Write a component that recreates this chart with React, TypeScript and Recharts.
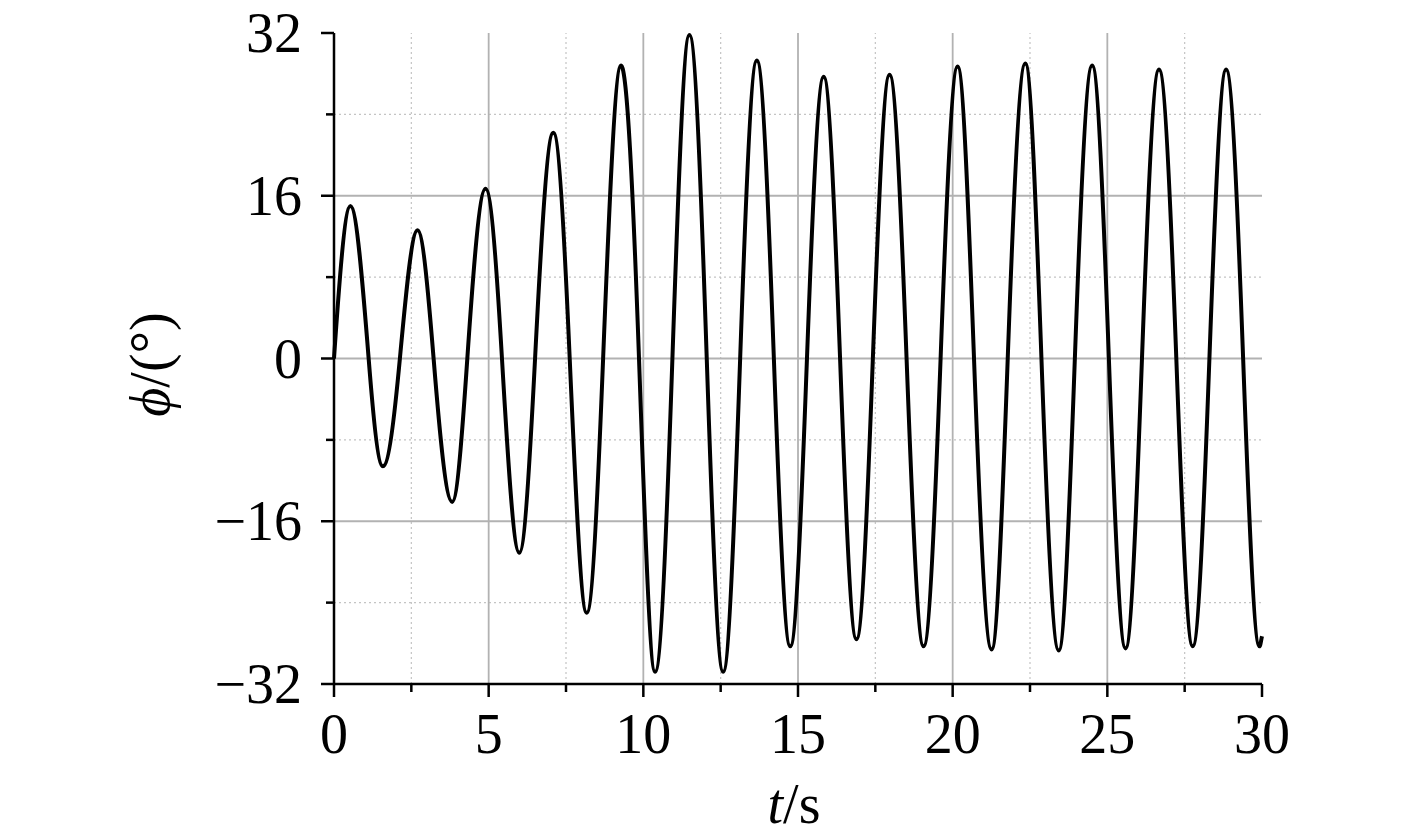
import { LineChart, Line, XAxis, YAxis, ReferenceLine } from 'recharts'

// values: peaks, troughs and zero crossings
const timeS = [
  0, 0.53, 1.12, 1.58, 2.13, 2.7, 3.22, 3.82, 4.31, 4.9, 5.43, 5.99, 6.5, 7.09, 7.62, 8.17, 8.7,
  9.28, 9.86, 10.38, 10.94, 11.49, 12.05, 12.58, 13.13, 13.67, 14.22, 14.75, 15.29, 15.83, 16.36,
  16.89, 17.42, 17.96, 18.51, 19.06, 19.61, 20.16, 20.69, 21.26, 21.78, 22.35, 22.87, 23.43, 23.95,
  24.51, 25.05, 25.59, 26.12, 26.67, 27.23, 27.76, 28.3, 28.84, 29.39, 29.92, 30,
]
const phiDeg = [
  0, 15.0, 0, -10.6, 0, 12.6, 0, -14.1, 0, 16.7, 0, -19.1, 0, 22.2, 0, -25.0, 0,
  28.8, 0, -30.8, 0, 31.8, 0, -30.8, 0, 29.3, 0, -28.3, 0, 27.7, 0,
  -27.6, 0, 27.9, 0, -28.3, 0, 28.7, 0, -28.6, 0, 29.0, 0, -28.7, 0,
  28.8, 0, -28.5, 0, 28.4, 0, -28.3, 0, 28.4, 0, -28.3, -27.3,
]

const xTicks = [0, 2.5, 5, 7.5, 10, 12.5, 15, 17.5, 20, 22.5, 25, 27.5, 30]
const yTicks = [-32, -24, -16, -8, 0, 8, 16, 24, 32]
const xGridMajor = [5, 10, 15, 20, 25]
const xGridMinor = [2.5, 7.5, 12.5, 17.5, 22.5, 27.5]
const yGridMajor = [-16, 0, 16]
const yGridMinor = [-24, -8, 8, 24]

const data = timeS.map((t, i) => ({ t, phi: phiDeg[i] }))

const FONT = '"Liberation Serif", "Times New Roman", serif'

const fmt = (v: number) => (v < 0 ? '\u2212' + Math.abs(v) : String(v))

// cubic Hermite curve: flat at the turning points, steeper through the crossings
function oscCurve(context: any) {
  let xs: number[] = []
  let ys: number[] = []
  return {
    areaStart() {},
    areaEnd() {},
    lineStart() {
      xs = []
      ys = []
    },
    point(x: number, y: number) {
      xs.push(+x)
      ys.push(+y)
    },
    lineEnd() {
      const n = xs.length
      if (!n) return
      context.moveTo(xs[0], ys[0])
      if (n === 1) return
      const m: number[] = []
      for (let i = 0; i < n; i++) {
        if (i === 0) {
          m.push((1.57 * (ys[1] - ys[0])) / (xs[1] - xs[0]))
        } else if (i === n - 1) {
          m.push((ys[i] - ys[i - 1]) / (xs[i] - xs[i - 1]))
        } else {
          const s0 = (ys[i] - ys[i - 1]) / (xs[i] - xs[i - 1])
          const s1 = (ys[i + 1] - ys[i]) / (xs[i + 1] - xs[i])
          m.push(s0 * s1 <= 0 ? 0 : (1.57 * (ys[i + 1] - ys[i - 1])) / (xs[i + 1] - xs[i - 1]))
        }
      }
      for (let i = 0; i < n - 1; i++) {
        const dx = (xs[i + 1] - xs[i]) / 3
        context.bezierCurveTo(
          xs[i] + dx,
          ys[i] + m[i] * dx,
          xs[i + 1] - dx,
          ys[i + 1] - m[i + 1] * dx,
          xs[i + 1],
          ys[i + 1],
        )
      }
    },
  }
}

function XTick({ x, y, payload }: any) {
  const major = payload.value % 5 === 0
  return (
    <g>
      <line x1={x} y1={y} x2={x} y2={y + (major ? 13 : 8)} stroke="#000" strokeWidth={2.5} />
      {major && (
        <text x={x} y={y + 69} textAnchor="middle" fontFamily={FONT} fontSize={56} fill="#000">
          {fmt(payload.value)}
        </text>
      )}
    </g>
  )
}

function YTick({ x, y, payload }: any) {
  const major = payload.value % 16 === 0
  return (
    <g>
      <line x1={x} y1={y} x2={x - (major ? 13 : 8)} y2={y} stroke="#000" strokeWidth={2.5} />
      {major && (
        <text
          x={x - 32}
          y={y}
          textAnchor="end"
          dominantBaseline="central"
          fontFamily={FONT}
          fontSize={56}
          fill="#000"
        >
          {fmt(payload.value)}
        </text>
      )}
    </g>
  )
}

function XTitle({ viewBox }: any) {
  const cx = viewBox.x + viewBox.width / 2 - 4
  const y = viewBox.y + 139
  return (
    <text x={cx} y={y} textAnchor="middle" fontFamily={FONT} fontSize={56} fill="#000">
      <tspan fontStyle="italic">t</tspan>
      <tspan>/s</tspan>
    </text>
  )
}

function YTitle({ viewBox }: any) {
  const cx = viewBox.x + viewBox.width - 184
  const cy = viewBox.y + viewBox.height / 2 + 6
  return (
    <text
      x={cx}
      y={cy}
      transform={`rotate(-90 ${cx} ${cy})`}
      textAnchor="middle"
      dominantBaseline="central"
      fontFamily={FONT}
      fontSize={56}
      fill="#000"
    >
      <tspan fontStyle="italic">{'\u03D5'}</tspan>
      <tspan>/(°)</tspan>
    </text>
  )
}

export default function App() {
  return (
    <div style={{ position: 'absolute', left: 0, top: 0 }}>
      <LineChart width={1417} height={839} data={data} margin={{ top: 33, right: 155, bottom: 55, left: 0 }}>
        {xGridMinor.map((v) => (
          <ReferenceLine key={'xm' + v} x={v} stroke="#c4c4c4" strokeWidth={1.2} strokeDasharray="2 3" />
        ))}
        {yGridMinor.map((v) => (
          <ReferenceLine key={'ym' + v} y={v} stroke="#c4c4c4" strokeWidth={1.2} strokeDasharray="2 3" />
        ))}
        {xGridMajor.map((v) => (
          <ReferenceLine key={'xM' + v} x={v} stroke="#b2b2b2" strokeWidth={1.8} />
        ))}
        {yGridMajor.map((v) => (
          <ReferenceLine key={'yM' + v} y={v} stroke="#b2b2b2" strokeWidth={1.8} />
        ))}
        <XAxis
          dataKey="t"
          type="number"
          domain={[0, 30]}
          ticks={xTicks}
          interval={0}
          height={100}
          tickSize={0}
          tickMargin={0}
          tickLine={false}
          tick={<XTick />}
          axisLine={{ stroke: '#000', strokeWidth: 2.5 }}
          label={<XTitle />}
        />
        <YAxis
          type="number"
          domain={[-32, 32]}
          ticks={yTicks}
          interval={0}
          width={334}
          tickSize={0}
          tickMargin={0}
          tickLine={false}
          tick={<YTick />}
          axisLine={{ stroke: '#000', strokeWidth: 2.5 }}
          label={<YTitle />}
        />
        <Line
          dataKey="phi"
          type={oscCurve as any}
          stroke="#000"
          strokeWidth={4}
          dot={false}
          isAnimationActive={false}
        />
      </LineChart>
    </div>
  )
}
